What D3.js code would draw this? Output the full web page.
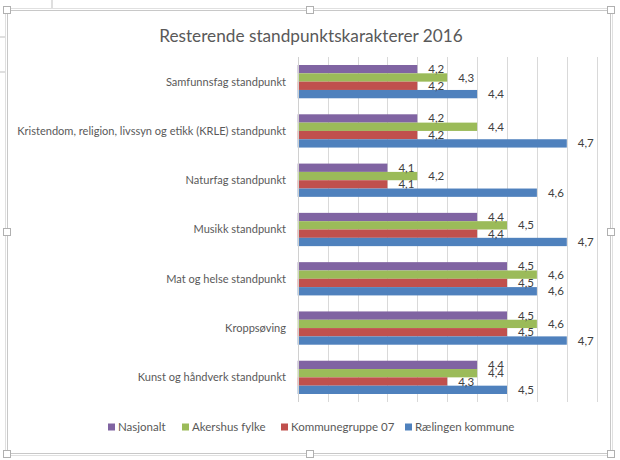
<!DOCTYPE html>
<html>
<head>
<meta charset="utf-8">
<script src="https://cdn.jsdelivr.net/npm/d3@7/dist/d3.min.js"></script>
<style>
  html, body { margin: 0; padding: 0; background: #fff; }
  svg { display: block; }
  text { font-family: Lato, "Open Sans", sans-serif; }
</style>
</head>
<body>
<svg id="chart" width="620" height="460"></svg>
<script>
const title = "Resterende standpunktskarakterer 2016";
const categories = [
  "Samfunnsfag standpunkt",
  "Kristendom, religion, livssyn og etikk (KRLE) standpunkt",
  "Naturfag standpunkt",
  "Musikk standpunkt",
  "Mat og helse standpunkt",
  "Kroppsøving",
  "Kunst og håndverk standpunkt"
];
const seriesNames = ["Nasjonalt", "Akershus fylke", "Kommunegruppe 07", "Rælingen kommune"];
const nasjonalt     = [4.2, 4.2, 4.1, 4.4, 4.5, 4.5, 4.4];
const akershus      = [4.3, 4.4, 4.2, 4.5, 4.6, 4.6, 4.4];
const kommunegruppe = [4.2, 4.2, 4.1, 4.4, 4.5, 4.5, 4.3];
const raelingen     = [4.4, 4.7, 4.6, 4.7, 4.6, 4.7, 4.5];
const axisMin = 3.8, axisMax = 4.8;
const colors = ["#8064A2", "#9BBB59", "#C0504D", "#4F81BD"];

const seriesValues = [nasjonalt, akershus, kommunegruppe, raelingen];
const svg = d3.select("#chart");

// background spreadsheet fragments
svg.append("line").attr("x1", 52).attr("x2", 52).attr("y1", 0).attr("y2", 8).attr("stroke", "#bfbfbf");
svg.append("line").attr("x1", 0).attr("x2", 5).attr("y1", 37).attr("y2", 37).attr("stroke", "#bfbfbf");
svg.append("line").attr("x1", 0).attr("x2", 5).attr("y1", 72).attr("y2", 72).attr("stroke", "#bfbfbf");

// chart frame
svg.append("rect").attr("x", 7.5).attr("y", 10.5).attr("width", 603).attr("height", 443)
  .attr("fill", "#fff").attr("stroke", "#c8c8c8");
svg.append("rect").attr("x", 5.5).attr("y", 8.5).attr("width", 607).attr("height", 447)
  .attr("fill", "none").attr("stroke", "#e0e0e0");
const handles = [[7,10],[310,10],[611,10],[7,232],[611,232],[7,454],[310,454],[611,454]];
svg.selectAll("rect.handle").data(handles).join("rect").attr("class", "handle")
  .attr("x", d => d[0] - 3.5).attr("y", d => d[1] - 3.5).attr("width", 7).attr("height", 7)
  .attr("fill", "#fff").attr("stroke", "#b0b0b0");

// title
const titleText = svg.append("text").attr("x", 311).attr("y", 42).attr("text-anchor", "middle")
  .attr("font-size", 19).attr("fill", "#595959").text(title);
const tw = titleText.node().getComputedTextLength();
titleText.attr("font-size", 19 * 304 / tw);

const x = d3.scaleLinear().domain([axisMin, axisMax]).range([297.7, 596.7]);
const y = d3.scaleBand().domain(categories).range([57, 402]).paddingInner(0.325).paddingOuter(0.1625);
const ys = d3.scaleBand().domain(seriesNames).range([0, y.bandwidth()]);

// gridlines
const ticks = d3.range(0, 11).map(i => +(axisMin + i * 0.1).toFixed(1));
svg.append("g").selectAll("line").data(ticks).join("line")
  .attr("x1", d => Math.round(x(d)) + 0.5).attr("x2", d => Math.round(x(d)) + 0.5)
  .attr("y1", 57).attr("y2", 402)
  .attr("stroke", "#d9d9d9");

const fmt = d3.formatLocale({decimal: ",", thousands: " ", grouping: [3], currency: ["", ""]}).format(".1f");

const groups = svg.append("g").selectAll("g").data(categories).join("g")
  .attr("transform", d => `translate(0,${y(d)})`);

groups.selectAll("rect").data((c, i) => seriesNames.map((s, j) => ({s, v: seriesValues[j][i], j})))
  .join("rect")
  .attr("x", x(axisMin))
  .attr("y", d => ys(d.s))
  .attr("width", d => x(d.v) - x(axisMin))
  .attr("height", ys.bandwidth())
  .attr("fill", d => colors[d.j]);

groups.selectAll("text.val").data((c, i) => seriesNames.map((s, j) => ({s, v: seriesValues[j][i], j})))
  .join("text").attr("class", "val")
  .attr("x", d => x(d.v) + 11)
  .attr("y", d => ys(d.s) + ys.bandwidth() / 2)
  .attr("dy", "0.35em")
  .attr("font-size", 11.5).attr("fill", "#404040")
  .text(d => fmt(d.v));

// axis line
svg.append("line").attr("x1", 298.5).attr("x2", 298.5).attr("y1", 57).attr("y2", 402).attr("stroke", "#d0d0d0");

// category labels
const catLabels = svg.append("g").selectAll("text").data(categories).join("text")
  .attr("x", 286).attr("y", d => y(d) + y.bandwidth() / 2).attr("dy", "0.35em")
  .attr("text-anchor", "end").attr("font-size", 12).attr("fill", "#595959")
  .text(d => d);
const maxW = d3.max(catLabels.nodes(), n => n.getComputedTextLength());
catLabels.attr("font-size", 12 * 269 / maxW);

// legend
const legendX = [108, 182, 281, 405];
const lg = svg.append("g").selectAll("g").data(seriesNames).join("g")
  .attr("transform", (d, i) => `translate(${legendX[i]},427)`);
lg.append("rect").attr("x", 0).attr("y", -3.5).attr("width", 7).attr("height", 7).attr("fill", (d, i) => colors[i]);
lg.append("text").attr("x", 10).attr("y", 0).attr("dy", "0.35em").attr("font-size", 11.5).attr("fill", "#595959").text(d => d);
</script>
</body>
</html>
